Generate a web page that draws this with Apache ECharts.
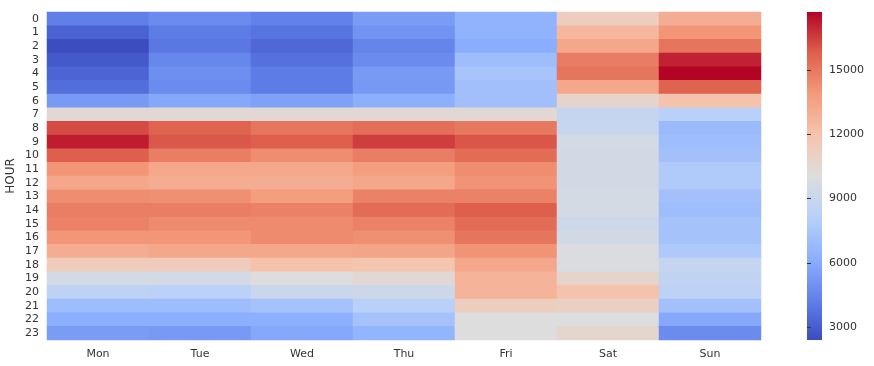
<!DOCTYPE html>
<html><head><meta charset="utf-8">
<script src="https://cdn.jsdelivr.net/npm/echarts@6/dist/echarts.min.js"></script>
<style>html,body{margin:0;padding:0;background:#fff}#c{width:874px;height:366px}</style>
</head><body><div id="c"></div>
<script>
const days = ['Mon','Tue','Wed','Thu','Fri','Sat','Sun'];
const hours = ['0','1','2','3','4','5','6','7','8','9','10','11','12','13','14','15','16','17','18','19','20','21','22','23'];
const mon = [4200,3200,2450,2850,3300,3600,5300,10400,16200,17200,15800,14000,13300,14300,14800,14700,14000,13000,11400,9600,8400,7000,6200,5400];
const tue = [4700,4100,3950,4500,4850,4700,5900,10400,15700,15950,14800,13300,13000,14200,14800,14400,14000,13300,11400,9600,8300,7000,6200,5300];
const wed = [4300,3800,3400,3700,4100,4100,5600,10400,15100,15800,14300,13300,13000,13700,14650,14400,14400,13300,12000,10100,9000,7300,6200,5900];
const thu = [5400,5000,4450,4700,5300,5250,6200,10400,15300,16500,14800,13700,13300,14650,15400,14650,14200,13400,11900,10400,9150,8200,7300,6500];
const fri = [6400,6400,6100,7000,7450,7150,7150,10400,14950,16000,15400,14300,14100,14650,15800,15400,15100,14100,13300,12700,12700,11300,10050,10050];
const sat = [11300,12500,13300,14850,15100,13300,10800,8850,8900,9600,9500,9500,9500,9600,9600,9200,9500,9900,9900,10800,12000,11100,10000,10600];
const sun = [13000,14000,15100,17100,17700,15700,12000,8200,6800,7000,7200,7800,7800,7200,7000,7300,7300,7700,8850,8550,8400,7200,5900,4700];
const cbTicks = [3000,6000,9000,12000,15000];
const vMin = 2400, vMax = 17700;

const cols = [mon,tue,wed,thu,fri,sat,sun];
const data = [];
cols.forEach((col,i)=>col.forEach((v,j)=>data.push([i,j,v])));

const coolwarm = ['#3b4cc0','#6282ea','#8db0fe','#b8d0f9','#dddddd','#f5c4ad','#f49a7b','#de604d','#b40426'];
const txt = {color:'#333333', fontSize:11, fontFamily:'DejaVu Sans'};

const chart = echarts.init(document.getElementById('c'), null, {renderer:'canvas'});
chart.setOption({
  animation:false,
  backgroundColor:'#fff',
  grid:[
    {left:47, right:113, top:12, bottom:26, outerBoundsMode:'none', containLabel:false},
    {left:807, width:15, top:12, height:328, outerBoundsMode:'none', containLabel:false}
  ],
  xAxis:[
    {type:'category', data:days, gridIndex:0, axisLine:{show:false}, axisTick:{show:false},
     axisLabel:Object.assign({margin:9, interval:0},txt), splitLine:{show:false}},
    {type:'value', gridIndex:1, show:false, min:0, max:1}
  ],
  yAxis:[
    {type:'category', data:hours, inverse:true, gridIndex:0, axisLine:{show:false}, axisTick:{show:false},
     axisLabel:Object.assign({margin:8, interval:0},txt), name:'HOUR', nameLocation:'middle', nameGap:30,
     nameMoveOverlap:false,
     nameTextStyle:Object.assign({},txt,{fontSize:12})},
    {type:'value', gridIndex:1, position:'right', min:vMin, max:vMax,
     axisLine:{show:false}, splitLine:{show:false},
     axisTick:{show:true, length:4, customValues:cbTicks, lineStyle:{color:'#333333', width:1}},
     axisLabel:Object.assign({margin:7, customValues:cbTicks, formatter:v=>String(v)},txt)}
  ],
  visualMap:{
    type:'continuous', min:vMin, max:vMax, show:false,
    inRange:{color:coolwarm}, seriesIndex:0
  },
  graphic:[{
    type:'rect', left:807, top:12, silent:true,
    shape:{width:15, height:328},
    style:{fill:new echarts.graphic.LinearGradient(0,1,0,0,
      coolwarm.map((c,i)=>({offset:i/(coolwarm.length-1), color:c})))}
  }],
  series:[{
    type:'heatmap', xAxisIndex:0, yAxisIndex:0, data:data,
    itemStyle:{borderWidth:0}, emphasis:{disabled:true}, progressive:0
  }]
});
</script></body></html>
